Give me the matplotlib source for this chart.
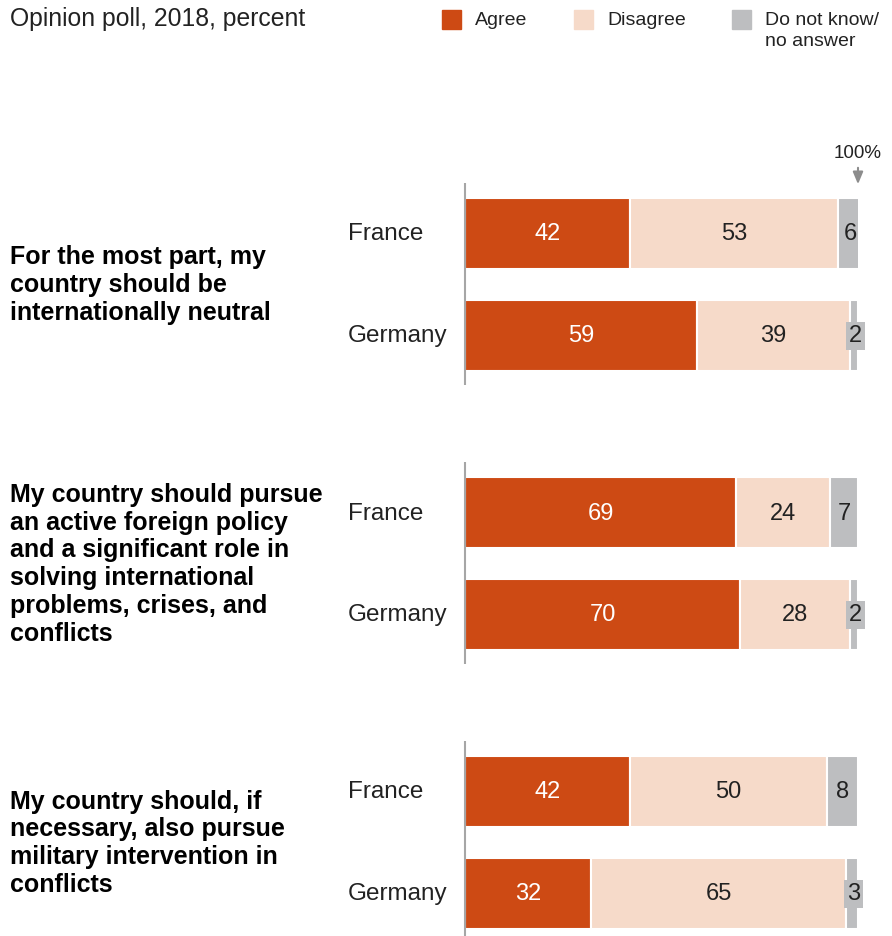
import matplotlib.pyplot as plt

plt.rcParams['font.family'] = ['Liberation Sans', 'DejaVu Sans']

questions = [
    'For the most part, my\ncountry should be\ninternationally neutral',
    'My country should pursue\nan active foreign policy\nand a significant role in\nsolving international\nproblems, crises, and\nconflicts',
    'My country should, if\nnecessary, also pursue\nmilitary intervention in\nconflicts',
]
countries = ['France', 'Germany']
agree = [42, 59, 69, 70, 42, 32]
disagree = [53, 39, 24, 28, 50, 65]
dont_know = [6, 2, 7, 2, 8, 3]

c_agree = '#cd4a14'
c_dis = '#f6dac9'
c_dk = '#bdbec0'
txt = '#222222'

W, H = 892, 936
fig = plt.figure(figsize=(W / 100, H / 100), dpi=100)
ax = fig.add_axes([465 / W, 0, 393 / W, 1])
ax.set_xlim(0, 100)
ax.set_ylim(H, 0)
ax.axis('off')

bar_h = 71
first = 233.5
group_step = 279
row_step = 101.5

ys = []
for g in range(len(questions)):
    for i in range(len(countries)):
        ys.append(first + g * group_step + i * row_step)

ax.barh(ys, agree, height=bar_h, color=c_agree, edgecolor='white', linewidth=1.5)
ax.barh(ys, disagree, left=agree, height=bar_h, color=c_dis, edgecolor='white', linewidth=1.5)
lefts = [a + d for a, d in zip(agree, disagree)]
ax.barh(ys, dont_know, left=lefts, height=bar_h, color=c_dk, edgecolor='white', linewidth=1.5)

vfs = 17
for k, y in enumerate(ys):
    ax.text(agree[k] / 2, y + 1, str(agree[k]), color='white', fontsize=vfs, ha='center', va='center')
    ax.text(agree[k] + disagree[k] / 2, y + 1, str(disagree[k]), color=txt, fontsize=vfs,
            ha='center', va='center')
    xc = lefts[k] + dont_know[k] / 2
    if dont_know[k] < 5:
        ax.text(xc + 0.3, y + 1, str(dont_know[k]), color=txt, fontsize=vfs, ha='center',
                va='center', clip_on=False,
                bbox=dict(boxstyle='square,pad=0.12', fc=c_dk, ec='none'))
    else:
        ax.text(xc, y + 1, str(dont_know[k]), color=txt, fontsize=vfs, ha='center', va='center',
                clip_on=False)
    fig.text(348 / W, 1 - (y + 1) / H, countries[k % 2], color=txt, fontsize=17.5,
             ha='left', va='center')

for g, q in enumerate(questions):
    top = ys[2 * g] - bar_h / 2 - 15
    bot = ys[2 * g + 1] + bar_h / 2 + 14
    ax.vlines(0, top, bot, color='#a6a6a6', lw=1.5, clip_on=False)
    yc = (ys[2 * g] + ys[2 * g + 1]) / 2
    fig.text(10 / W, 1 - (yc + 1) / H, q, fontsize=18, fontweight='bold', color='black',
             ha='left', va='center', linespacing=1.2)

# 100% marker
ax.annotate('', xy=(100, 187), xytext=(100, 165),
            arrowprops=dict(arrowstyle='-|>,head_length=0.6,head_width=0.25', color='#8c8c8c',
                            lw=1.5, mutation_scale=12),
            annotation_clip=False)
ax.text(100, 154, '100%', fontsize=13.5, color=txt, ha='center', va='center', clip_on=False)

fig.text(10 / W, 1 - 19 / H, 'Opinion poll, 2018, percent', fontsize=17.8, color=txt,
         ha='left', va='center')

legend_items = [('Agree', c_agree, 442), ('Disagree', c_dis, 574),
                ('Do not know/\nno answer', c_dk, 732)]
for label, col, x in legend_items:
    fig.patches.append(plt.Rectangle((x / W, 1 - 29 / H), 19 / W, 19 / H,
                                     transform=fig.transFigure, color=col))
    fig.text((x + 33) / W, 1 - 12 / H, label, fontsize=14, color=txt, ha='left', va='top',
             linespacing=1.3)

fig.savefig('out.png', dpi=100)
